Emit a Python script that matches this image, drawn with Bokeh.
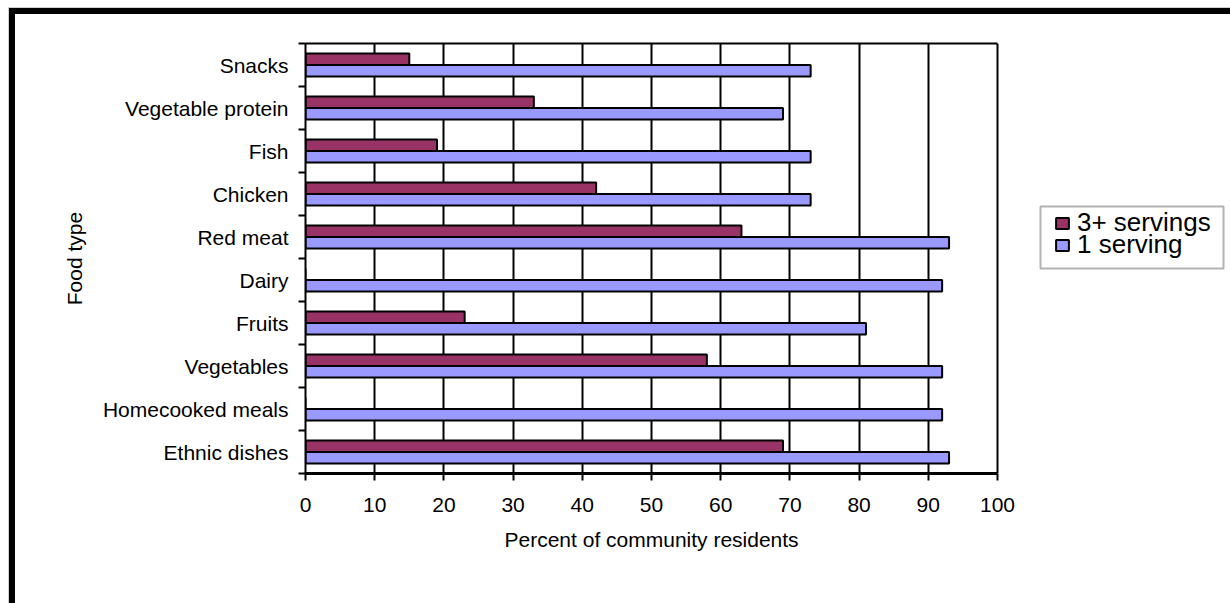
from bokeh.plotting import figure
from bokeh.models import (Range1d, LinearAxis, FixedTicker, ColumnDataSource,
                          Legend, LegendItem, BoxAnnotation, Title)
from bokeh.transform import dodge
from bokeh.embed import file_html
from bokeh.resources import INLINE

# Share of community residents eating each food type (top to bottom as listed)
foods = ["Snacks", "Vegetable protein", "Fish", "Chicken", "Red meat",
         "Dairy", "Fruits", "Vegetables", "Homecooked meals", "Ethnic dishes"]
three_plus_servings = [15, 33, 19, 42, 63, 0, 23, 58, 0, 69]
one_serving = [73, 69, 73, 73, 93, 92, 81, 92, 92, 93]
x_ticks = [0, 10, 20, 30, 40, 50, 60, 70, 80, 90, 100]

FONT = "Liberation Sans"
PURPLE = "#993366"
LAVENDER = "#9999FF"

n = len(foods)
# centre of each food's band, first food at the top
band_centre = [n - i - 0.5 for i in range(n)]
band_edges = list(range(n + 1))

src = ColumnDataSource(dict(food=foods, pos=band_centre,
                            three=three_plus_servings, one=one_serving))

# layout in pixels: plot area 692 x 430, the frame continues to the right
# edge so the legend can sit beside the bars
FRAME_LEFT, FRAME_TOP, PLOT_W, PLOT_H = 305, 43, 692, 430
FRAME_W = 1230 - FRAME_LEFT
x_max = x_ticks[-1]
px_per_pct = PLOT_W / x_max
px_per_band = PLOT_H / n
x_end = FRAME_W / px_per_pct

p = figure(width=1230, height=603, output_backend="svg", toolbar_location=None,
           y_range=Range1d(0, n), x_range=Range1d(0, x_end),
           min_border_left=FRAME_LEFT, min_border_right=0, min_border_top=FRAME_TOP,
           min_border_bottom=603 - FRAME_TOP - PLOT_H,
           background_fill_color="white", border_fill_alpha=0)

# heavy frame around the chart area, drawn behind the transparent canvas border
p.styles = {"box-shadow": "inset 8px 7px 0 0 #ffffff, inset 9px 8px 0 0 #cfcfcf, "
                          "inset 15px 14px 0 0 #000000"}

p.outline_line_color = None

# vertical gridlines only (the one at 100 closes the plot area on the right)
p.ygrid.visible = False
p.xgrid.ticker = FixedTicker(ticks=x_ticks)
p.xgrid.grid_line_color = "black"
p.xgrid.grid_line_width = 2

# x axis
xa = p.xaxis[0]
xa.bounds = (0, x_max)
xa.ticker = FixedTicker(ticks=x_ticks)
xa.major_label_text_font = FONT
xa.major_label_text_font_size = "21px"
xa.major_label_text_color = "black"
xa.major_label_standoff = 17
xa.major_tick_in = 0
xa.major_tick_out = 7
xa.minor_tick_in = 0
xa.minor_tick_out = 0
xa.major_tick_line_width = 2
xa.major_tick_line_color = "black"
xa.axis_line_width = 3
xa.axis_line_color = "black"

# x axis title, centred under the 0-100 scale rather than the whole frame
TITLE_W = 294  # rendered width of the title text at 21px
x_title = Title(text="Percent of community residents", align="left",
                offset=PLOT_W / 2 - TITLE_W / 2, standoff=24,
                vertical_align="middle", text_font=FONT, text_font_size="21px",
                text_font_style="normal", text_color="black")
p.add_layout(x_title, "below")

# top edge of the plot area
top_rule = LinearAxis(bounds=(0, x_max), ticker=FixedTicker(ticks=[]),
                      major_tick_in=0, major_tick_out=0, minor_tick_in=0,
                      minor_tick_out=0, major_label_standoff=0,
                      axis_line_width=2, axis_line_color="black")
p.add_layout(top_rule, "above")

# y axis: tick marks on band boundaries, names centred in each band
tick_axis = p.yaxis[0]
tick_axis.ticker = FixedTicker(ticks=band_edges)
tick_axis.major_label_overrides = {e: "" for e in band_edges}
tick_axis.major_label_standoff = 0
tick_axis.major_tick_in = 0
tick_axis.major_tick_out = 7
tick_axis.minor_tick_in = 0
tick_axis.minor_tick_out = 0
tick_axis.major_tick_line_width = 2
tick_axis.major_tick_line_color = "black"
tick_axis.axis_line_width = 2
tick_axis.axis_line_color = "black"

name_axis = LinearAxis(ticker=FixedTicker(ticks=band_centre),
                       major_label_overrides=dict(zip(band_centre, foods)),
                       major_tick_line_color=None, major_tick_in=0, major_tick_out=0,
                       minor_tick_line_color=None, minor_tick_in=0, minor_tick_out=0,
                       axis_line_color=None,
                       major_label_text_font=FONT, major_label_text_font_size="21px",
                       major_label_text_color="black", major_label_standoff=10,
                       axis_label="Food type", axis_label_text_font=FONT,
                       axis_label_text_font_size="21px",
                       axis_label_text_font_style="normal",
                       axis_label_text_color="black", axis_label_standoff=14)
p.add_layout(name_axis, "left")

# bars
r3 = p.hbar(y=dodge("pos", 0.135), left=0, right="three",
            height=0.27, source=src, fill_color=PURPLE, line_color="black",
            line_width=2)
r1 = p.hbar(y=dodge("pos", -0.135), left=0, right="one",
            height=0.27, source=src, fill_color=LAVENDER, line_color="black",
            line_width=2)

# legend: one entry per row, closely stacked inside a single box
LEG_LEFT, LEG_RIGHT, LEG_TOP, LEG_BOTTOM = 1040, 1223, 206, 268  # canvas px
GLYPH_X = 1054 - FRAME_LEFT
ROW_CENTRES = [224, 246]
ROW_BOX = 29
for item, row_y in zip([LegendItem(label="3+ servings", renderers=[r3]),
                        LegendItem(label="1 serving", renderers=[r1])], ROW_CENTRES):
    lg = Legend(items=[item],
                location=(GLYPH_X, FRAME_TOP + PLOT_H - row_y - ROW_BOX // 2),
                margin=0, padding=0, spacing=0, label_standoff=7,
                glyph_width=16, glyph_height=14, label_height=14,
                label_text_font=FONT, label_text_font_size="26px",
                label_text_color="black", border_line_color=None,
                background_fill_alpha=0)
    p.add_layout(lg)

p.add_layout(BoxAnnotation(left=(LEG_LEFT - FRAME_LEFT) / px_per_pct,
                           right=(LEG_RIGHT - FRAME_LEFT) / px_per_pct,
                           top=n - (LEG_TOP - FRAME_TOP) / px_per_band,
                           bottom=n - (LEG_BOTTOM - FRAME_TOP) / px_per_band,
                           fill_color=None, fill_alpha=0, line_color="black",
                           line_width=2, level="underlay"))

open("out.html", "w").write(file_html(p, INLINE))
